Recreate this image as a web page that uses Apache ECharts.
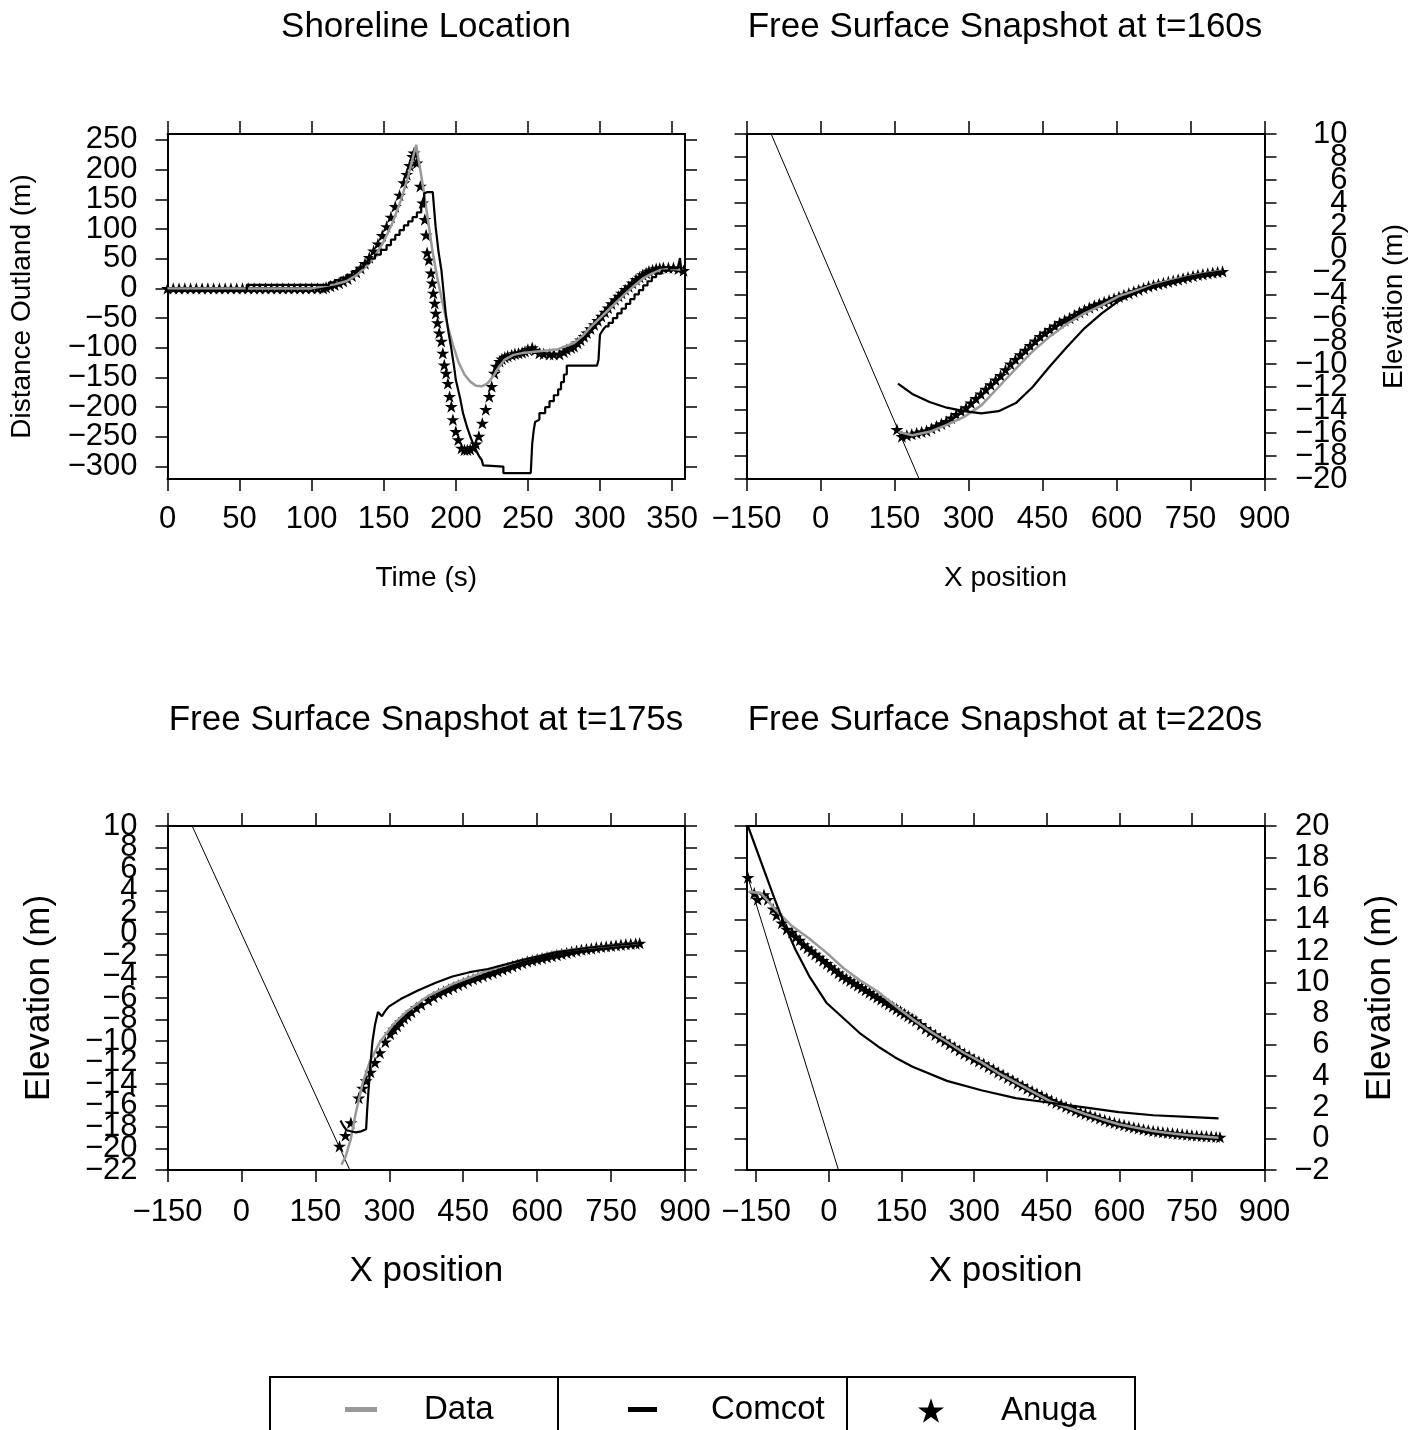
<!DOCTYPE html>
<html>
<head>
<meta charset="utf-8">
<title>Shoreline location and free surface snapshots</title>
<script src="https://cdn.jsdelivr.net/npm/echarts@6/dist/echarts.min.js"></script>
<style>
  html, body { margin: 0; padding: 0; background: #fff; }
  #chart { width: 1426px; height: 1430px; }
</style>
</head>
<body>
<div id="chart"></div>
<script>
// ---------- values ----------

// Shoreline location: [time (s), distance outland (m)]
const shoreData = [[0,0],[100,0],[107,3],[116,7],[124,12],[131,22],[138,37],[144,55],[150,79],[156,110],[162,149],[167,189],[170,218],[172.5,242],[175,205],[178,160],[181,110],[184,60],[187,20],[190,-15],[194,-60],[198,-95],[202,-125],[206,-145],[210,-157],[214,-164],[218,-165],[222,-160],[226,-148],[230,-132],[234,-120],[240,-112],[246,-109],[258,-106],[270,-103],[282,-92],[288,-80],[294,-64],[300,-50],[306,-36],[312,-22],[318,-8],[324,5],[330,17],[336,25],[342,31],[350,33],[358,31]];

const shoreComcot = [[0,-4],[55,-4],[55,6],[108,6],[112,6],[112,10],[116,10],[116,14],[120,14],[120,18],[124,18],[124,23],[128,23],[128,29],[132,29],[132,35],[136,35],[136,42],[140,42],[140,50],[144,50],[144,57],[148,57],[148,65],[152,65],[152,73],[155,73],[155,82],[158,82],[158,90],[161,90],[161,98],[164,98],[164,106],[167,106],[167,113],[170,113],[170,120],[173,120],[173,128],[176,128],[176,138],[178,138],[178,160],[180,162],[184,162],[186,104],[188,62],[190,31],[192,-18],[193,-42],[195,-75],[197,-103],[199,-135],[200,-154],[203,-185],[205,-210],[208,-235],[210,-249],[212,-262],[214,-272],[216,-282],[218,-289],[219,-298],[220,-300],[233,-300],[233,-311],[252,-311],[253,-262],[254,-240],[255,-225],[258,-221],[258,-210],[262,-210],[262,-200],[265,-200],[265,-190],[268,-190],[268,-180],[271,-180],[271,-170],[273,-170],[273,-158],[275,-158],[275,-145],[277,-145],[277,-130],[298,-130],[299,-120],[300,-78],[302,-70],[304,-64],[306,-64],[306,-58],[309,-58],[309,-50],[312,-50],[312,-42],[315,-42],[315,-34],[318,-34],[318,-26],[321,-26],[321,-18],[324,-18],[324,-10],[327,-10],[327,-3],[330,-3],[330,5],[333,5],[333,12],[336,12],[336,19],[339,19],[339,25],[343,25],[343,30],[348,30],[348,34],[354,34],[355.5,51],[356.5,30],[359,30]];

const shoreAnuga = [[0,0],[4,0],[8,0],[12,0],[16,0],[20,0],[24,0],[28,0],[32,0],[36,0],[40,0],[44,0],[48,0],[52,0],[56,0],[60,0],[64,0],[68,0],[72,0],[76,0],[80,0],[84,0],[88,0],[92,0],[96,0],[100,0],[104,0],[108,0],
  [110,2],[113,4],[116,6],[119,9],[122,12],[125,16],[128,21],[131,27],[134,34],[137,42],[140,52],[143,63],[146,75],[149,89],[152,104],[155,120],[158,138],[161,157],[164,178],[166,192],[168,207],[170,222],[171,228],
  [173,211],[175.4,172],[177,144],[178.5,116],[179.4,90],[180.1,60],[181.3,48],[182.8,26],[183.7,9],[184.4,-8],[185.4,-25],[186.1,-42],[187.3,-58],[188.5,-75],[190,-89],[191,-109],[192,-129],[193.3,-143],[194.5,-160],[195.7,-182],[196.9,-199],[198,-221],[200,-241],[201.7,-255],[204,-269],[206,-272],[208,-272],[210,-271],[212,-268],[214,-262],
  [216,-249],[218.4,-227],[220.8,-204],[223.2,-182],[224.9,-165],[226.8,-143],[228,-131],[230.4,-123],[232,-119],[234,-116],[236,-114],[238.8,-112],[241,-110],[243.5,-109],[246,-108],[248,-106],[250,-103],[253,-100],[255,-104],[258,-109],[261,-110],[265,-111],[268,-111],[272,-111],[275,-107],[277,-103],[280,-100],[282,-98],[284.5,-92],[286.6,-87],[289,-81],[291,-75],[293.5,-68],[296,-61],[298.5,-54],[301,-47],[303.5,-40],[305.7,-33],[308,-26],[310.5,-19],[313,-13],[315,-8],[317.5,-2],[320,3],[322.5,9],[325,15],[327.5,19],[329.7,23],[332,26],[334,29],[336.5,31],[339,33],[341.5,34],[344,35],[347.5,35],[351,35],[354.5,33],[358,30]];

// bed profile (thin line), same in all three snapshots: [x, elevation]
const bed = [[-200,20],[230,-23]];

// Free surface at t=160s: [x position, elevation (m)]
const s160Data = [[158,-15.9],[186,-16.2],[221,-15.9],[256,-15.3],[291,-14.6],[326,-13.6],[361,-12],[396,-10.4],[430,-8.9],[465,-7.6],[500,-6.5],[535,-5.6],[570,-4.9],[605,-4.1],[640,-3.6],[675,-3.1],[710,-2.7],[744,-2.4],[779,-2.1],[814,-1.9]];
const s160Comcot = [[157,-11.7],[186,-12.6],[221,-13.3],[256,-13.8],[291,-14.1],[326,-14.3],[361,-14.1],[396,-13.4],[430,-12],[465,-10.2],[500,-8.5],[535,-6.9],[570,-5.6],[605,-4.5],[640,-3.8],[675,-3.2],[710,-2.8],[744,-2.45],[779,-2.15],[814,-1.95]];
const s160Anuga = [[155,-15.7],[165,-16.3],[175,-16.2],[185,-16.1],[195,-16],[205,-15.9],[215,-15.8],[225,-15.6],[235,-15.4],[245,-15.2],[255,-15],[265,-14.7],[275,-14.4],[285,-14.1],[295,-13.8],[305,-13.4],[315,-13],[325,-12.6],[335,-12.2],[345,-11.8],[355,-11.4],[365,-11],[375,-10.5],[385,-10],[395,-9.6],[405,-9.2],[415,-8.8],[425,-8.4],[435,-8],[445,-7.6],[455,-7.3],[465,-7],[475,-6.7],[485,-6.4],[495,-6.2],[505,-6],[515,-5.75],[525,-5.5],[535,-5.3],[545,-5.1],[555,-4.9],[565,-4.75],[575,-4.6],[585,-4.45],[595,-4.3],[605,-4.15],[615,-4],[625,-3.85],[635,-3.7],[645,-3.55],[655,-3.4],[665,-3.25],[675,-3.15],[685,-3.05],[695,-2.95],[705,-2.85],[715,-2.75],[725,-2.65],[735,-2.55],[745,-2.45],[755,-2.35],[765,-2.25],[775,-2.2],[785,-2.12],[795,-2.06],[805,-2],[815,-1.95]];

// Free surface at t=175s
const s175Data = [[203,-21.5],[211,-20.8],[222,-19.1],[232,-16.7],[246,-13.9],[260,-12],[281,-10.1],[309,-8.4],[337,-7.2],[379,-5.8],[428,-4.7],[497,-3.5],[567,-2.5],[637,-1.7],[707,-1.3],[804,-0.9]];
const s175Comcot = [[201,-17.4],[207,-17.9],[213,-18.3],[222,-18.4],[232,-18.5],[243,-18.4],[253,-18.2],[255,-16.5],[258,-14.5],[262,-12],[266,-10],[271,-8.5],[277,-7.3],[285,-7.7],[292,-7.2],[299,-6.8],[323,-6.1],[358,-5.3],[393,-4.6],[428,-4],[463,-3.6],[500,-3.3],[567,-2.5],[637,-1.75],[707,-1.3],[804,-0.9]];
const s175Anuga = [[199,-19.8],[211,-18.8],[222,-17.6],[238,-15.3],[246,-14.4],[253,-13.7],[262,-12.9],[271,-12],[281,-11.1],[292,-10.1],[302,-9.35],[309,-8.9],[316,-8.6],[323,-8.2],[330,-7.9],[337,-7.6],[345,-7.3],[355,-6.9],[365,-6.6],[379,-6.2],[390,-5.9],[400,-5.6],[410,-5.4],[420,-5.2],[430,-5],[440,-4.8],[450,-4.6],[460,-4.4],[470,-4.25],[480,-4.1],[490,-3.95],[500,-3.8],[510,-3.65],[520,-3.5],[530,-3.35],[540,-3.2],[550,-3.05],[560,-2.9],[570,-2.75],[580,-2.6],[590,-2.5],[600,-2.4],[610,-2.3],[620,-2.2],[630,-2.1],[640,-2],[650,-1.9],[660,-1.8],[670,-1.7],[680,-1.6],[690,-1.5],[700,-1.45],[710,-1.4],[720,-1.3],[730,-1.25],[740,-1.2],[750,-1.15],[760,-1.1],[770,-1.05],[780,-1],[790,-0.97],[800,-0.93],[808,-0.9]];

// Free surface at t=220s
const s220Data = [[-165,15.8],[-140,15.7],[-111.6,14.7],[-76,13.6],[-40.5,12.8],[-5,11.9],[30.6,10.9],[66,10.1],[101.7,9.4],[137,8.5],[173,7.65],[208,6.9],[244,6.2],[279,5.5],[315,4.9],[350,4.2],[386,3.6],[421.6,3],[457,2.4],[493,2],[528,1.6],[564,1.25],[599,0.93],[635,0.7],[670,0.5],[706,0.35],[741.5,0.22],[805,0.07]];
const s220Comcot = [[-170,20.2],[-167,20],[-140,17.7],[-111.6,15.3],[-90,13.6],[-69,12.1],[-40.5,10.4],[-5,8.7],[23.5,7.9],[66,6.7],[101.7,5.9],[137,5.2],[173,4.6],[244,3.7],[315,3.1],[386,2.6],[457,2.3],[528,2],[599,1.7],[670,1.5],[741.5,1.4],[805,1.3]];
const s220Anuga = [[-167,16.7],[-154,15.7],[-147,15.3],[-134,15.6],[-126,15.3],[-115,14.7],[-108,14.3],[-97,13.8],[-87,13.4],[-76,13.2],[-68,12.9],[-60,12.7],[-52,12.4],[-44,12.2],[-36,12],[-28,11.8],[-20,11.6],[-12,11.4],[-4,11.2],[4,11],[12,10.8],[20,10.6],[28,10.4],[36,10.25],[44,10.1],[52,9.95],[60,9.8],[68,9.65],[76,9.5],[84,9.35],[92,9.2],[100,9.05],[108,8.9],[116,8.75],[124,8.6],[132,8.45],[140,8.3],[148,8.15],[156,8],[164,7.85],[172,7.7],[180,7.55],[190,7.3],[200,7.05],[210,6.85],[220,6.65],[230,6.45],[240,6.25],[250,6.05],[260,5.85],[270,5.65],[280,5.45],[290,5.3],[300,5.1],[310,4.95],[320,4.8],[330,4.6],[340,4.45],[350,4.25],[360,4.1],[370,3.9],[380,3.75],[390,3.55],[400,3.4],[410,3.2],[420,3.05],[430,2.9],[440,2.75],[450,2.6],[460,2.45],[470,2.3],[480,2.2],[490,2.05],[500,1.95],[510,1.8],[520,1.7],[530,1.6],[540,1.5],[550,1.4],[560,1.3],[570,1.2],[580,1.1],[590,1.02],[600,0.95],[610,0.88],[620,0.8],[630,0.73],[640,0.67],[650,0.6],[660,0.55],[670,0.5],[680,0.46],[690,0.42],[700,0.38],[710,0.35],[720,0.32],[730,0.29],[740,0.26],[750,0.23],[760,0.2],[770,0.18],[780,0.16],[790,0.14],[800,0.12],[808,0.1]];

// tick labels
const timeTicks = [0, 50, 100, 150, 200, 250, 300, 350];
const shoreTicks = [-300, -250, -200, -150, -100, -50, 0, 50, 100, 150, 200, 250];
const xTicks = [-150, 0, 150, 300, 450, 600, 750, 900];
const elev160Ticks = [-20, -18, -16, -14, -12, -10, -8, -6, -4, -2, 0, 2, 4, 6, 8, 10];
const elev175Ticks = [-22, -20, -18, -16, -14, -12, -10, -8, -6, -4, -2, 0, 2, 4, 6, 8, 10];
const elev220Ticks = [-2, 0, 2, 4, 6, 8, 10, 12, 14, 16, 18, 20];

// ---------- chart ----------
const FONT = "'Liberation Sans', Arial, sans-serif";
const GRAY = '#999999';
const STAR = 'path://M50,0 L61.8,36.2 L100,36.2 L69.1,58.8 L80.9,95.1 L50,72.7 L19.1,95.1 L30.9,58.8 L0,36.2 L38.2,36.2 Z';
const minus = (v) => String(v).replace('-', '\u2212');

const boxLine = { show: true, onZero: false, lineStyle: { color: '#000', width: 2 } };

function xAxes(grid, min, max, ticks, name, nameSize, nameGap, labelMargin) {
  return [
    {
      type: 'value', gridIndex: grid, position: 'bottom', min: min, max: max,
      axisLine: boxLine,
      axisTick: { show: true, length: 12, customValues: ticks, lineStyle: { color: '#000', width: 1.5 } },
      axisLabel: { customValues: ticks, formatter: minus, margin: labelMargin, showMinLabel: true, showMaxLabel: true,
        fontSize: 31, color: '#000', fontFamily: FONT },
      splitLine: { show: false },
      name: name, nameLocation: 'middle', nameGap: nameGap,
      nameTextStyle: { fontSize: nameSize, color: '#000', fontFamily: FONT }
    },
    {
      type: 'value', gridIndex: grid, position: 'top', min: min, max: max,
      axisLine: boxLine,
      axisTick: { show: true, length: 13, customValues: ticks, lineStyle: { color: '#000', width: 1.5 } },
      axisLabel: { show: false },
      splitLine: { show: false }
    }
  ];
}

// four y axes per grid: left box side, right box side, and two label-only axes
// (labels split in alternating halves so ECharts does not drop crowded ones)
function yAxes(grid, min, max, ticks, labelSide, name, nameSize, nameGap, labelMargin) {
  const axes = ['left', 'right'].map((side) => ({
    type: 'value', gridIndex: grid, position: side, min: min, max: max,
    axisLine: boxLine,
    axisTick: { show: true, length: 12, customValues: ticks, lineStyle: { color: '#000', width: 1.5 } },
    axisLabel: { show: false },
    splitLine: { show: false }
  }));
  [0, 1].forEach((k) => {
    const part = ticks.filter((t, i) => i % 2 === k);
    const a = {
      type: 'value', gridIndex: grid, position: labelSide, min: min, max: max,
      axisLine: { show: false }, axisTick: { show: false }, splitLine: { show: false },
      axisLabel: {
        show: true, customValues: part, formatter: minus, margin: labelMargin, align: 'right',
        showMinLabel: true, showMaxLabel: true,
        fontSize: 31, color: '#000', fontFamily: FONT
      }
    };
    if (k === 0) {
      a.name = name;
      a.nameLocation = 'middle';
      a.nameGap = nameGap;
      a.nameTextStyle = { fontSize: nameSize, color: '#000', fontFamily: FONT };
    }
    axes.push(a);
  });
  return axes;
}

function panelSeries(g, anuga, data, comcot, withBed) {
  const xi = 2 * g, yi = 4 * g;
  const list = [];
  if (withBed) {
    list.push({
      name: 'Bed', type: 'line', xAxisIndex: xi, yAxisIndex: yi, data: bed,
      symbol: 'none', lineStyle: { color: '#000', width: 1 }, silent: true
    });
  }
  list.push({
    name: 'Anuga', type: 'scatter', xAxisIndex: xi, yAxisIndex: yi, data: anuga,
    symbol: STAR, symbolSize: 13, symbolKeepAspect: true, itemStyle: { color: '#000', opacity: 1 }
  });
  list.push({
    name: 'Data', type: 'line', xAxisIndex: xi, yAxisIndex: yi, data: data,
    symbol: 'none', lineStyle: { color: GRAY, width: 2.5 }, itemStyle: { color: GRAY }
  });
  list.push({
    name: 'Comcot', type: 'line', xAxisIndex: xi, yAxisIndex: yi, data: comcot,
    symbol: 'none', lineStyle: { color: '#000', width: 2.2 }, itemStyle: { color: '#000' }
  });
  return list;
}

const titleStyle = { fontSize: 35, fontWeight: 'normal', color: '#000', fontFamily: FONT };

const option = {
  animation: false,
  backgroundColor: '#fff',
  title: [
    { text: 'Shoreline Location', left: 426, top: 10, textAlign: 'center', textVerticalAlign: 'top', padding: 0, textStyle: titleStyle },
    { text: 'Free Surface Snapshot at t=160s', left: 1005, top: 10, textAlign: 'center', textVerticalAlign: 'top', padding: 0, textStyle: titleStyle },
    { text: 'Free Surface Snapshot at t=175s', left: 426, top: 703, textAlign: 'center', textVerticalAlign: 'top', padding: 0, textStyle: titleStyle },
    { text: 'Free Surface Snapshot at t=220s', left: 1005, top: 703, textAlign: 'center', textVerticalAlign: 'top', padding: 0, textStyle: titleStyle }
  ],
  grid: [
    { left: 167.5, top: 134, width: 517.5, height: 345, outerBoundsMode: 'none' },
    { left: 746.5, top: 134, width: 518, height: 345, outerBoundsMode: 'none' },
    { left: 167.5, top: 826, width: 517.5, height: 344, outerBoundsMode: 'none' },
    { left: 746.5, top: 826, width: 518, height: 344, outerBoundsMode: 'none' }
  ],
  xAxis: [].concat(
    xAxes(0, 0, 359, timeTicks, 'Time (s)', 28, 85, 25),
    xAxes(1, -150, 900, xTicks, 'X position', 28, 85, 25),
    xAxes(2, -150, 900, xTicks, 'X position', 35, 84, 27),
    xAxes(3, -170, 900, xTicks, 'X position', 35, 84, 27)
  ),
  yAxis: [].concat(
    yAxes(0, -321, 260, shoreTicks, 'left', 'Distance Outland (m)', 28, 131, 30),
    yAxes(1, -20, 10, elev160Ticks, 'right', 'Elevation (m)', 28, 116, 83),
    yAxes(2, -22, 10, elev175Ticks, 'left', 'Elevation (m)', 35, 111, 30),
    yAxes(3, -2, 20, elev220Ticks, 'right', 'Elevation (m)', 35, 98, 65)
  ),
  legend: [
    { data: [{ name: 'Data', icon: 'rect' }], left: 340, top: 1388, itemWidth: 32, itemHeight: 5, selectedMode: false,
      textStyle: { fontSize: 33, color: '#000', fontFamily: FONT, padding: [0, 0, 0, 42] } },
    { data: [{ name: 'Comcot', icon: 'rect' }], left: 623, top: 1388, itemWidth: 29, itemHeight: 5, selectedMode: false,
      textStyle: { fontSize: 33, color: '#000', fontFamily: FONT, padding: [0, 0, 0, 49] } },
    { data: [{ name: 'Anuga', icon: STAR }], left: 913, top: 1389, itemWidth: 26, itemHeight: 26, selectedMode: false,
      textStyle: { fontSize: 33, color: '#000', fontFamily: FONT, padding: [0, 0, 0, 52] } }
  ],
  graphic: [
    { type: 'rect', shape: { x: 270, y: 1377, width: 865, height: 80 }, style: { fill: 'none', stroke: '#000', lineWidth: 2 }, silent: true },
    { type: 'line', shape: { x1: 558, y1: 1377, x2: 558, y2: 1430 }, style: { stroke: '#000', lineWidth: 2 }, silent: true },
    { type: 'line', shape: { x1: 847, y1: 1377, x2: 847, y2: 1430 }, style: { stroke: '#000', lineWidth: 2 }, silent: true }
  ],
  series: [].concat(
    panelSeries(0, shoreAnuga, shoreData, shoreComcot, false),
    panelSeries(1, s160Anuga, s160Data, s160Comcot, true),
    panelSeries(2, s175Anuga, s175Data, s175Comcot, true),
    panelSeries(3, s220Anuga, s220Data, s220Comcot, true)
  )
};

const chart = echarts.init(document.getElementById('chart'), null, { renderer: 'canvas' });
chart.setOption(option);
</script>
</body>
</html>
